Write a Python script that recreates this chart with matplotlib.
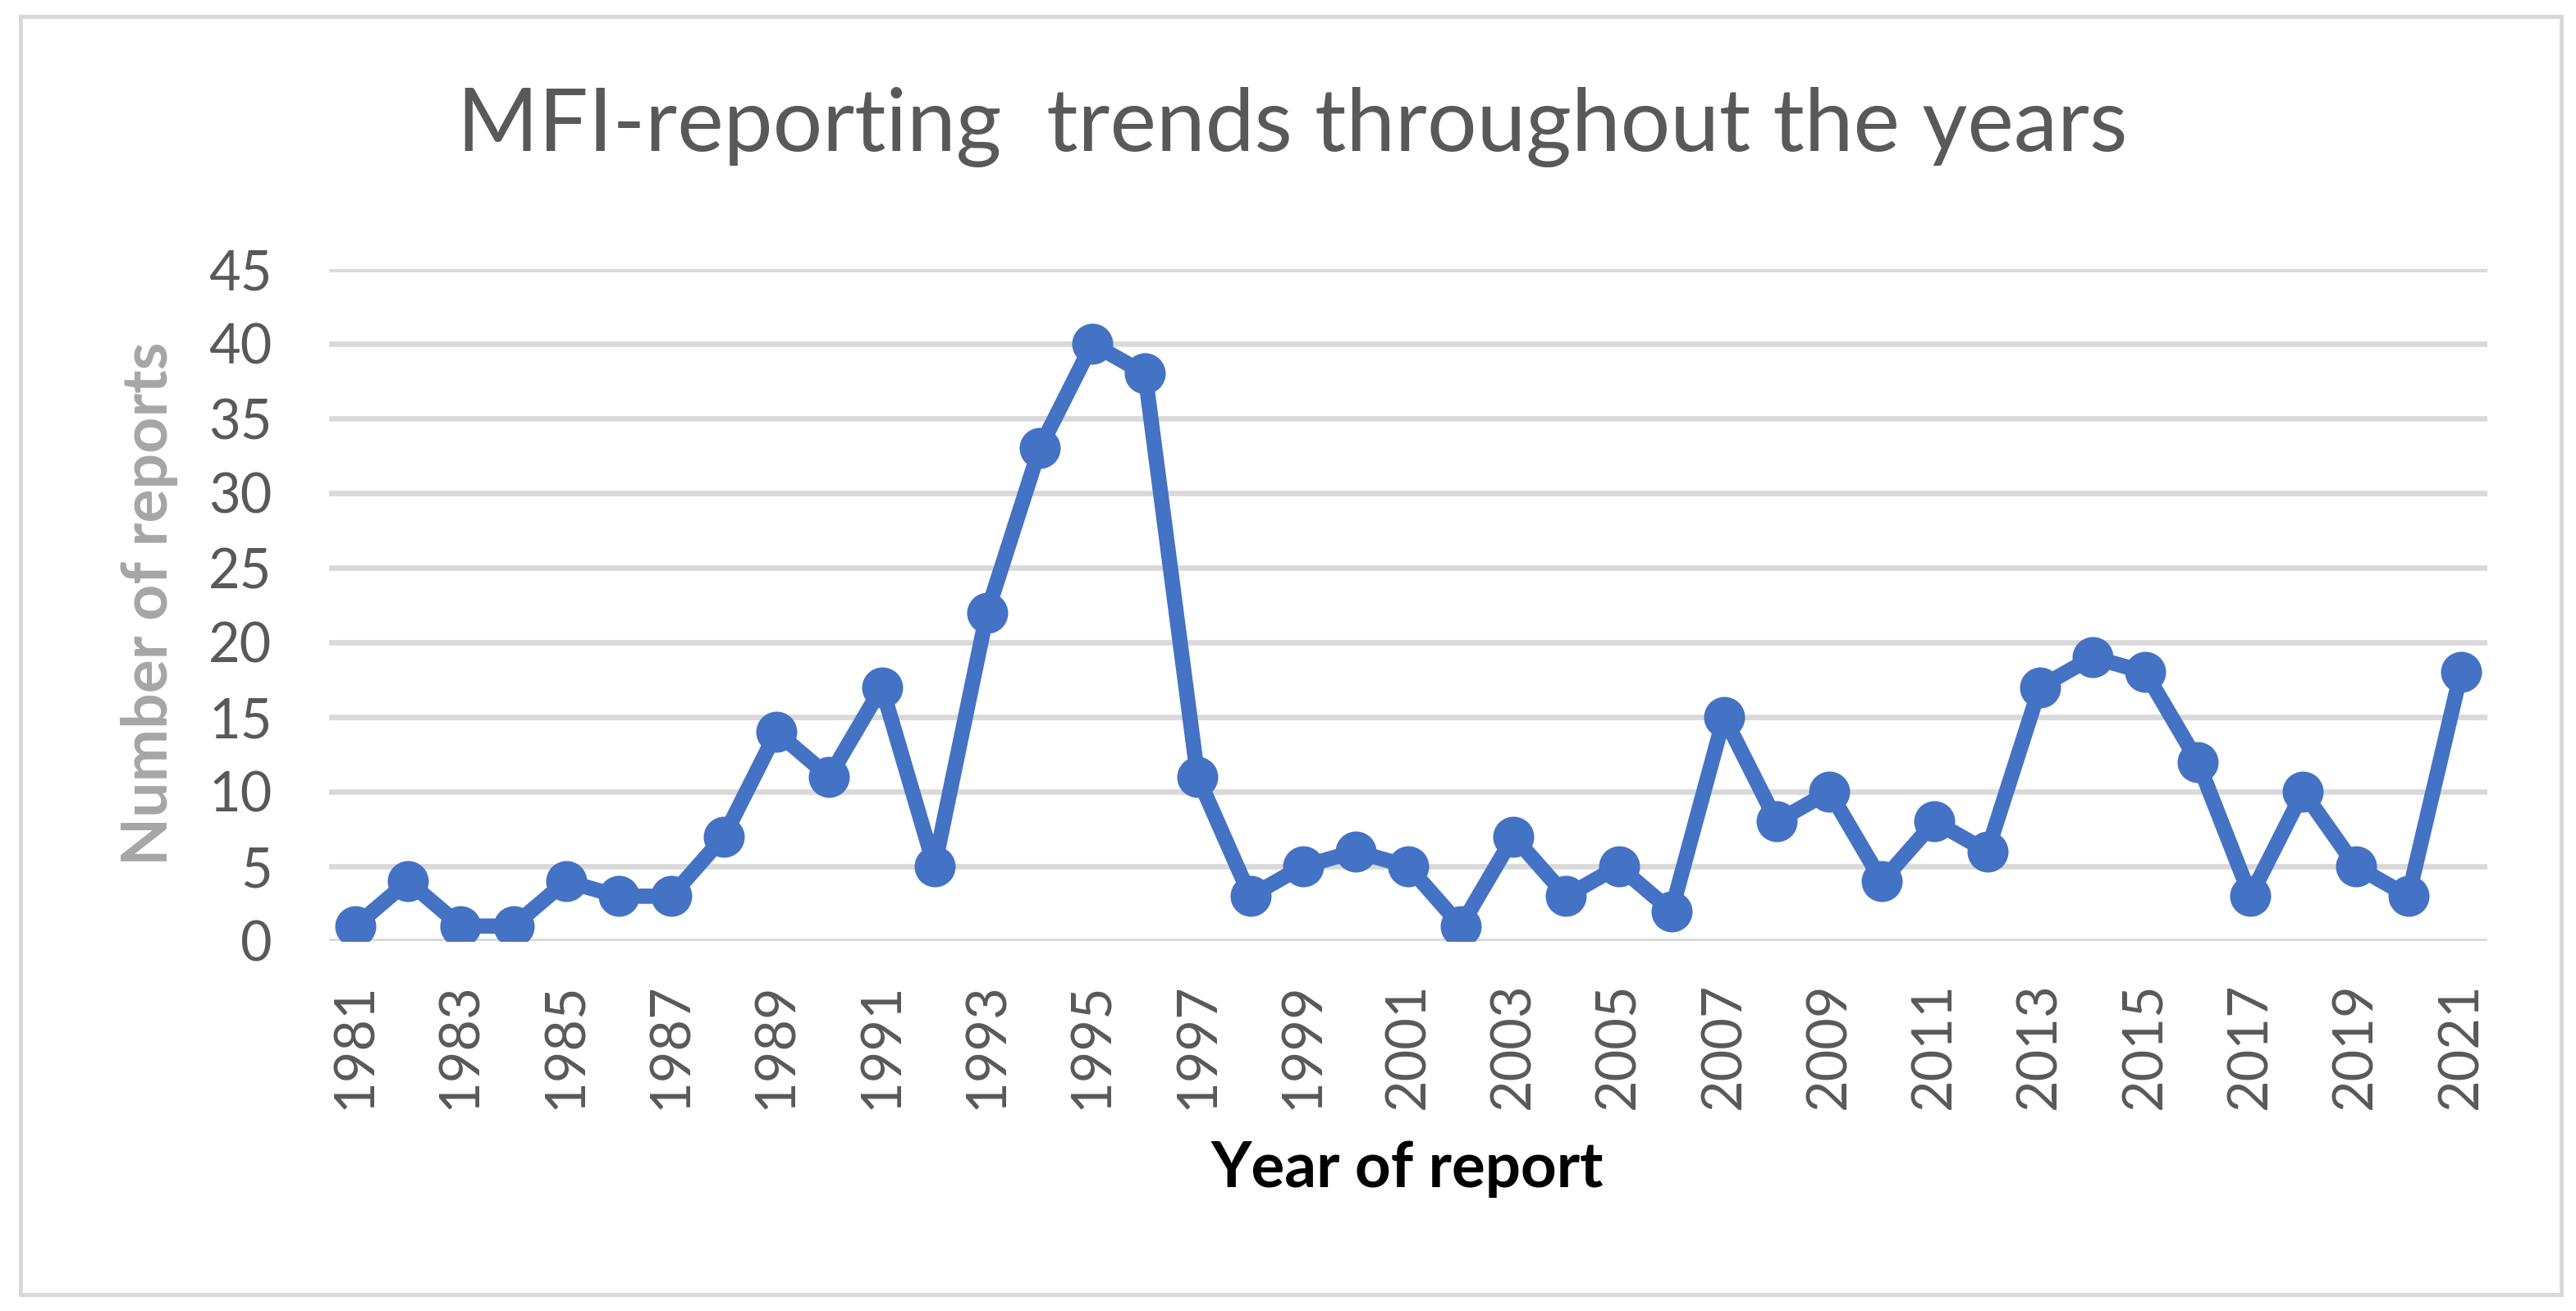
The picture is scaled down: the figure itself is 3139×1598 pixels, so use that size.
import matplotlib
matplotlib.use('Agg')
import matplotlib.pyplot as plt
from matplotlib.patches import Rectangle

# data
years = list(range(1981, 2022))
reports = [1, 4, 1, 1, 4, 3, 3, 7, 14, 11,
           17, 5, 22, 33, 40, 38, 11, 3, 5, 6,
           5, 1, 7, 3, 5, 2, 15, 8, 10, 4,
           8, 6, 17, 19, 18, 12, 3, 10, 5, 3,
           18]
y_ticks = [0, 5, 10, 15, 20, 25, 30, 35, 40, 45]
x_ticks = years[::2]

W, H = 3139, 1598
DPI = 200
C_LINE = '#4472C4'
C_GRID = '#D9D9D9'
C_TXT = '#595959'

plt.rcParams['font.family'] = ['Lato', 'DejaVu Sans']

fig = plt.figure(figsize=(W / DPI, H / DPI), dpi=DPI)
fig.patch.set_facecolor('white')

# axes placed on the plot area of the original
ax = fig.add_axes([401 / W, 1 - 1147 / H, (3031 - 401) / W, (1147 - 328) / H])
ax.plot(years, reports, color=C_LINE, lw=6.7, marker='o', ms=17,
        markerfacecolor=C_LINE, markeredgecolor=C_LINE,
        solid_joinstyle='round', solid_capstyle='round', zorder=3)

ax.set_xlim(1980.5, 2021.5)
ax.set_ylim(0, 45)
ax.set_yticks(y_ticks)
ax.set_xticks(x_ticks)
ax.set_xticklabels([str(y) for y in x_ticks], rotation=90)
ax.tick_params(axis='both', length=0, labelsize=24, colors=C_TXT)
ax.tick_params(axis='y', pad=25)
ax.tick_params(axis='x', pad=18)
ax.grid(axis='y', color=C_GRID, lw=2.4, zorder=0)
ax.set_axisbelow(True)
for s in ax.spines.values():
    s.set_visible(False)

fig.text(1575 / W, 1 - 155 / H, 'MFI-reporting  trends throughout the years',
         ha='center', va='center', fontsize=38.5, color=C_TXT)
fig.text(1715 / W, 1 - 1425 / H, 'Year of report', ha='center', va='center',
         fontsize=27.5, fontweight='bold', color='black')
fig.text(182 / W, 1 - 736 / H, 'Number of reports', ha='center', va='center',
         rotation=90, fontsize=27.7, fontweight='bold', color='#A6A6A6')

# light grey chart border
fig.patches.append(Rectangle((25 / W, 1 - 1578 / H), (3121 - 25) / W, (1578 - 20) / H,
                             transform=fig.transFigure, fill=False,
                             edgecolor=C_GRID, lw=1.8))

fig.savefig('out.png', dpi=DPI, facecolor='white')
plt.close(fig)
